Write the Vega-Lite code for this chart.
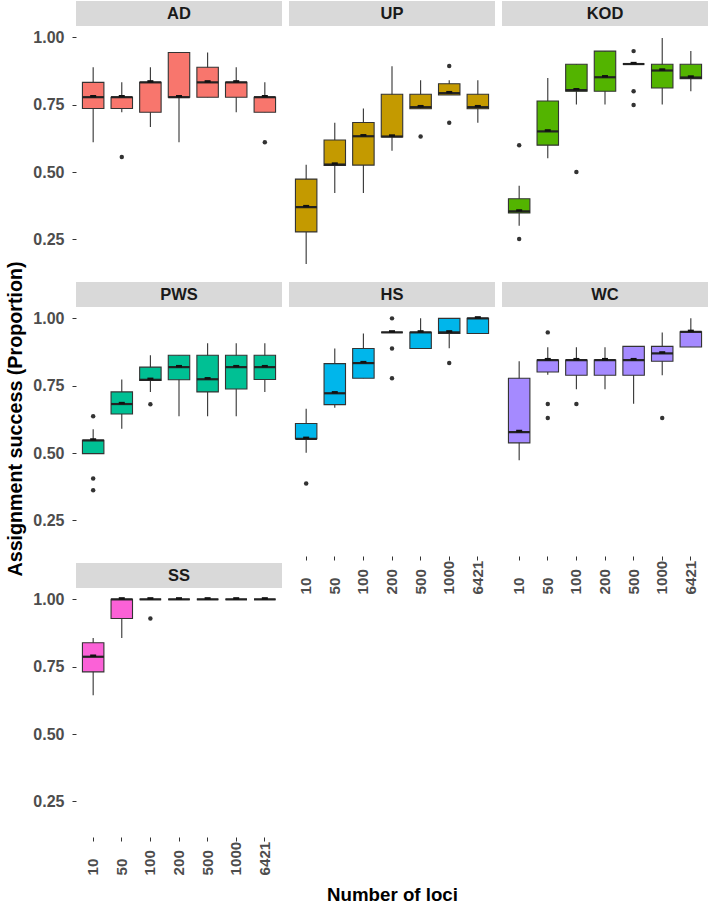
{
  "$schema": "https://vega.github.io/schema/vega-lite/v6.json",
  "padding": {"left": 6, "top": 1, "right": 0, "bottom": 0},
  "spacing": 7,
  "data": {"values": [
    {"t":"strip","site":"AD"},{"t":"strip","site":"UP"},{"t":"strip","site":"KOD"},{"t":"strip","site":"PWS"},{"t":"strip","site":"HS"},{"t":"strip","site":"WC"},{"t":"strip","site":"SS"},
    {"t":"box","site":"AD","loci":"10","lo":0.611,"q1":0.736,"med":0.778,"q3":0.833,"hi":0.889},
    {"t":"box","site":"AD","loci":"50","lo":0.722,"q1":0.736,"med":0.778,"q3":0.778,"hi":0.833},
    {"t":"box","site":"AD","loci":"100","lo":0.667,"q1":0.722,"med":0.833,"q3":0.833,"hi":0.889},
    {"t":"box","site":"AD","loci":"200","lo":0.611,"q1":0.778,"med":0.778,"q3":0.944,"hi":0.944},
    {"t":"box","site":"AD","loci":"500","lo":0.778,"q1":0.778,"med":0.833,"q3":0.889,"hi":0.944},
    {"t":"box","site":"AD","loci":"1000","lo":0.722,"q1":0.778,"med":0.833,"q3":0.833,"hi":0.889},
    {"t":"box","site":"AD","loci":"6421","lo":0.722,"q1":0.722,"med":0.778,"q3":0.778,"hi":0.833},
    {"t":"box","site":"UP","loci":"10","lo":0.159,"q1":0.278,"med":0.370,"q3":0.474,"hi":0.527},
    {"t":"box","site":"UP","loci":"50","lo":0.422,"q1":0.525,"med":0.528,"q3":0.619,"hi":0.683},
    {"t":"box","site":"UP","loci":"100","lo":0.422,"q1":0.526,"med":0.633,"q3":0.684,"hi":0.736},
    {"t":"box","site":"UP","loci":"200","lo":0.579,"q1":0.630,"med":0.632,"q3":0.789,"hi":0.893},
    {"t":"box","site":"UP","loci":"500","lo":0.735,"q1":0.735,"med":0.741,"q3":0.789,"hi":0.841},
    {"t":"box","site":"UP","loci":"1000","lo":0.786,"q1":0.786,"med":0.793,"q3":0.828,"hi":0.841},
    {"t":"box","site":"UP","loci":"6421","lo":0.683,"q1":0.735,"med":0.741,"q3":0.789,"hi":0.841},
    {"t":"box","site":"KOD","loci":"10","lo":0.301,"q1":0.348,"med":0.354,"q3":0.401,"hi":0.449},
    {"t":"box","site":"KOD","loci":"50","lo":0.551,"q1":0.600,"med":0.651,"q3":0.764,"hi":0.849},
    {"t":"box","site":"KOD","loci":"100","lo":0.751,"q1":0.800,"med":0.804,"q3":0.900,"hi":0.900},
    {"t":"box","site":"KOD","loci":"200","lo":0.751,"q1":0.800,"med":0.852,"q3":0.949,"hi":0.949},
    {"t":"box","site":"KOD","loci":"500","lo":0.901,"q1":0.901,"med":0.901,"q3":0.901,"hi":0.901},
    {"t":"box","site":"KOD","loci":"1000","lo":0.751,"q1":0.812,"med":0.877,"q3":0.900,"hi":0.998},
    {"t":"box","site":"KOD","loci":"6421","lo":0.800,"q1":0.847,"med":0.851,"q3":0.900,"hi":0.949},
    {"t":"box","site":"PWS","loci":"10","lo":0.498,"q1":0.498,"med":0.547,"q3":0.547,"hi":0.588},
    {"t":"box","site":"PWS","loci":"50","lo":0.590,"q1":0.645,"med":0.682,"q3":0.727,"hi":0.773},
    {"t":"box","site":"PWS","loci":"100","lo":0.727,"q1":0.770,"med":0.772,"q3":0.819,"hi":0.863},
    {"t":"box","site":"PWS","loci":"200","lo":0.637,"q1":0.772,"med":0.819,"q3":0.863,"hi":0.863},
    {"t":"box","site":"PWS","loci":"500","lo":0.637,"q1":0.727,"med":0.774,"q3":0.863,"hi":0.908},
    {"t":"box","site":"PWS","loci":"1000","lo":0.637,"q1":0.738,"med":0.819,"q3":0.863,"hi":0.908},
    {"t":"box","site":"PWS","loci":"6421","lo":0.727,"q1":0.773,"med":0.819,"q3":0.863,"hi":0.908},
    {"t":"box","site":"HS","loci":"10","lo":0.501,"q1":0.553,"med":0.553,"q3":0.610,"hi":0.665},
    {"t":"box","site":"HS","loci":"50","lo":0.668,"q1":0.680,"med":0.722,"q3":0.832,"hi":0.888},
    {"t":"box","site":"HS","loci":"100","lo":0.778,"q1":0.778,"med":0.834,"q3":0.888,"hi":0.944},
    {"t":"box","site":"HS","loci":"200","lo":0.948,"q1":0.948,"med":0.948,"q3":0.948,"hi":0.948},
    {"t":"box","site":"HS","loci":"500","lo":0.888,"q1":0.888,"med":0.948,"q3":0.948,"hi":1.0},
    {"t":"box","site":"HS","loci":"1000","lo":0.889,"q1":0.944,"med":0.948,"q3":1.0,"hi":1.0},
    {"t":"box","site":"HS","loci":"6421","lo":0.944,"q1":0.944,"med":1.0,"q3":1.0,"hi":1.0},
    {"t":"box","site":"WC","loci":"10","lo":0.473,"q1":0.538,"med":0.578,"q3":0.778,"hi":0.841},
    {"t":"box","site":"WC","loci":"50","lo":0.791,"q1":0.801,"med":0.845,"q3":0.845,"hi":0.893},
    {"t":"box","site":"WC","loci":"100","lo":0.737,"q1":0.789,"med":0.845,"q3":0.845,"hi":0.893},
    {"t":"box","site":"WC","loci":"200","lo":0.737,"q1":0.789,"med":0.845,"q3":0.845,"hi":0.893},
    {"t":"box","site":"WC","loci":"500","lo":0.683,"q1":0.789,"med":0.845,"q3":0.896,"hi":0.896},
    {"t":"box","site":"WC","loci":"1000","lo":0.789,"q1":0.841,"med":0.870,"q3":0.896,"hi":0.948},
    {"t":"box","site":"WC","loci":"6421","lo":0.894,"q1":0.894,"med":0.950,"q3":0.950,"hi":1.0},
    {"t":"box","site":"SS","loci":"10","lo":0.644,"q1":0.731,"med":0.787,"q3":0.839,"hi":0.857},
    {"t":"box","site":"SS","loci":"50","lo":0.857,"q1":0.929,"med":1.0,"q3":1.0,"hi":1.0},
    {"t":"box","site":"SS","loci":"100","lo":1.0,"q1":1.0,"med":1.0,"q3":1.0,"hi":1.0},
    {"t":"box","site":"SS","loci":"200","lo":1.0,"q1":1.0,"med":1.0,"q3":1.0,"hi":1.0},
    {"t":"box","site":"SS","loci":"500","lo":1.0,"q1":1.0,"med":1.0,"q3":1.0,"hi":1.0},
    {"t":"box","site":"SS","loci":"1000","lo":1.0,"q1":1.0,"med":1.0,"q3":1.0,"hi":1.0},
    {"t":"box","site":"SS","loci":"6421","lo":1.0,"q1":1.0,"med":1.0,"q3":1.0,"hi":1.0},
    {"t":"out","site":"AD","loci":"50","val":0.556},
    {"t":"out","site":"AD","loci":"6421","val":0.611},
    {"t":"out","site":"UP","loci":"500","val":0.632},
    {"t":"out","site":"UP","loci":"1000","val":0.894},
    {"t":"out","site":"UP","loci":"1000","val":0.683},
    {"t":"out","site":"KOD","loci":"10","val":0.600},
    {"t":"out","site":"KOD","loci":"10","val":0.252},
    {"t":"out","site":"KOD","loci":"100","val":0.500},
    {"t":"out","site":"KOD","loci":"500","val":0.949},
    {"t":"out","site":"KOD","loci":"500","val":0.800},
    {"t":"out","site":"KOD","loci":"500","val":0.749},
    {"t":"out","site":"PWS","loci":"10","val":0.637},
    {"t":"out","site":"PWS","loci":"10","val":0.406},
    {"t":"out","site":"PWS","loci":"10","val":0.362},
    {"t":"out","site":"PWS","loci":"100","val":0.681},
    {"t":"out","site":"HS","loci":"10","val":0.387},
    {"t":"out","site":"HS","loci":"200","val":1.0},
    {"t":"out","site":"HS","loci":"200","val":0.888},
    {"t":"out","site":"HS","loci":"200","val":0.778},
    {"t":"out","site":"HS","loci":"1000","val":0.834},
    {"t":"out","site":"WC","loci":"50","val":0.948},
    {"t":"out","site":"WC","loci":"50","val":0.682},
    {"t":"out","site":"WC","loci":"50","val":0.630},
    {"t":"out","site":"WC","loci":"100","val":0.682},
    {"t":"out","site":"WC","loci":"1000","val":0.630},
    {"t":"out","site":"SS","loci":"100","val":0.929}
  ]},
  "hconcat": [
    {
      "transform": [{"filter": {"field": "site", "oneOf": ["AD","PWS","SS"]}}],
      "facet": {"row": {"field": "site", "type": "nominal", "sort": ["AD","PWS","SS"],
        "header": {"title": "Assignment success (Proportion)", "labels": false, "titleFont": "Liberation Sans", "titleFontWeight": "bold", "titleFontSize": 19.7, "titleColor": "#000000", "titlePadding": -4}}},
      "spacing": {"row": 7},
      "spec": {
        "width": 206, "height": 274,
        "encoding": {
          "x": {"field": "loci", "type": "nominal", "title": null,
                "scale": {"domain": ["10","50","100","200","500","1000","6421"], "paddingInner": 0.25, "paddingOuter": 0.225}}
        },
        "layer": [
          {"transform": [{"filter": "datum.t === 'strip'"}],
           "mark": {"type": "rect", "color": "#D9D9D9"},
           "encoding": {"x": {"value": 0}, "x2": {"value": "width"},
             "y": {"datum": 1.042, "type": "quantitative", "title": null,
               "scale": {"domain": [0.118, 1.135], "nice": false, "zero": false},
               "axis": {"values": [0.25, 0.5, 0.75, 1.0], "format": ".2f"}},
             "y2": {"datum": 1.135}}},
          {"transform": [{"filter": "datum.t === 'strip'"}],
           "mark": {"type": "text", "font": "Liberation Sans", "fontWeight": "bold", "fontSize": 16.5, "color": "#1A1A1A", "baseline": "middle"},
           "encoding": {"x": {"datum": "200", "type": "nominal", "title": null},
             "y": {"datum": 1.0885, "type": "quantitative", "title": null, "axis": {"values": [0.25, 0.5, 0.75, 1.0], "format": ".2f"}},
             "text": {"field": "site"}}},
          {"transform": [{"filter": "datum.t === 'box'"}],
           "mark": {"type": "rule", "color": "#333333", "strokeWidth": 1.1},
           "encoding": {"y": {"field": "lo", "type": "quantitative", "title": null, "axis": {"values": [0.25, 0.5, 0.75, 1.0], "format": ".2f"}},
             "y2": {"field": "hi"}}},
          {"transform": [{"filter": "datum.t === 'box'"}],
           "mark": {"type": "bar", "stroke": "#333333", "strokeWidth": 1.1, "opacity": 1},
           "encoding": {"y": {"field": "q1", "type": "quantitative", "title": null, "axis": {"values": [0.25, 0.5, 0.75, 1.0], "format": ".2f"}},
             "y2": {"field": "q3"},
             "fill": {"field": "site", "type": "nominal", "legend": null,
               "scale": {"domain": ["AD","UP","KOD","PWS","HS","WC","SS"], "range": ["#F8766D","#C49A00","#53B400","#00C094","#00B6EB","#A58AFF","#FB61D7"]}}}},
          {"transform": [{"filter": "datum.t === 'box'"}],
           "mark": {"type": "tick", "color": "#222222", "size": 21.5, "thickness": 2.2, "opacity": 1},
           "encoding": {"y": {"field": "med", "type": "quantitative", "title": null, "axis": {"values": [0.25, 0.5, 0.75, 1.0], "format": ".2f"}}}},
          {"transform": [{"filter": "datum.t === 'box'"}],
           "mark": {"type": "tick", "color": "#111111", "size": 6, "thickness": 2.4, "yOffset": -1, "opacity": 1},
           "encoding": {"y": {"field": "med", "type": "quantitative", "title": null, "axis": {"values": [0.25, 0.5, 0.75, 1.0], "format": ".2f"}}}},
          {"transform": [{"filter": "datum.t === 'out'"}],
           "mark": {"type": "circle", "color": "#333333", "size": 20, "opacity": 1},
           "encoding": {"y": {"field": "val", "type": "quantitative", "title": null, "axis": {"values": [0.25, 0.5, 0.75, 1.0], "format": ".2f"}}}}
        ]
      }
    },
    {
      "transform": [{"filter": {"field": "site", "oneOf": ["UP","HS"]}}],
      "facet": {"row": {"field": "site", "type": "nominal", "sort": ["UP","HS"], "header": {"title": null, "labels": false}}},
      "spacing": {"row": 7},
      "spec": {
        "width": 206, "height": 274,
        "encoding": {
          "x": {"field": "loci", "type": "nominal", "title": "Number of loci", "axis": {"titlePadding": 291},
                "scale": {"domain": ["10","50","100","200","500","1000","6421"], "paddingInner": 0.25, "paddingOuter": 0.225}}
        },
        "layer": [
          {"transform": [{"filter": "datum.t === 'strip'"}],
           "mark": {"type": "rect", "color": "#D9D9D9"},
           "encoding": {"x": {"value": 0}, "x2": {"value": "width"},
             "y": {"datum": 1.042, "type": "quantitative", "axis": null,
               "scale": {"domain": [0.118, 1.135], "nice": false, "zero": false}},
             "y2": {"datum": 1.135}}},
          {"transform": [{"filter": "datum.t === 'strip'"}],
           "mark": {"type": "text", "font": "Liberation Sans", "fontWeight": "bold", "fontSize": 16.5, "color": "#1A1A1A", "baseline": "middle"},
           "encoding": {"x": {"datum": "200", "type": "nominal", "title": "Number of loci", "axis": {"titlePadding": 291}},
             "y": {"datum": 1.0885, "type": "quantitative", "axis": null}, "text": {"field": "site"}}},
          {"transform": [{"filter": "datum.t === 'box'"}],
           "mark": {"type": "rule", "color": "#333333", "strokeWidth": 1.1},
           "encoding": {"y": {"field": "lo", "type": "quantitative", "axis": null},
             "y2": {"field": "hi"}}},
          {"transform": [{"filter": "datum.t === 'box'"}],
           "mark": {"type": "bar", "stroke": "#333333", "strokeWidth": 1.1, "opacity": 1},
           "encoding": {"y": {"field": "q1", "type": "quantitative", "axis": null},
             "y2": {"field": "q3"},
             "fill": {"field": "site", "type": "nominal", "legend": null,
               "scale": {"domain": ["AD","UP","KOD","PWS","HS","WC","SS"], "range": ["#F8766D","#C49A00","#53B400","#00C094","#00B6EB","#A58AFF","#FB61D7"]}}}},
          {"transform": [{"filter": "datum.t === 'box'"}],
           "mark": {"type": "tick", "color": "#222222", "size": 21.5, "thickness": 2.2, "opacity": 1},
           "encoding": {"y": {"field": "med", "type": "quantitative", "axis": null}}},
          {"transform": [{"filter": "datum.t === 'box'"}],
           "mark": {"type": "tick", "color": "#111111", "size": 6, "thickness": 2.4, "yOffset": -1, "opacity": 1},
           "encoding": {"y": {"field": "med", "type": "quantitative", "axis": null}}},
          {"transform": [{"filter": "datum.t === 'out'"}],
           "mark": {"type": "circle", "color": "#333333", "size": 20, "opacity": 1},
           "encoding": {"y": {"field": "val", "type": "quantitative", "axis": null}}}
        ]
      }
    },
    {
      "transform": [{"filter": {"field": "site", "oneOf": ["KOD","WC"]}}],
      "facet": {"row": {"field": "site", "type": "nominal", "sort": ["KOD","WC"], "header": {"title": null, "labels": false}}},
      "spacing": {"row": 7},
      "spec": {
        "width": 206, "height": 274,
        "encoding": {
          "x": {"field": "loci", "type": "nominal", "title": null,
                "scale": {"domain": ["10","50","100","200","500","1000","6421"], "paddingInner": 0.25, "paddingOuter": 0.225}}
        },
        "layer": [
          {"transform": [{"filter": "datum.t === 'strip'"}],
           "mark": {"type": "rect", "color": "#D9D9D9"},
           "encoding": {"x": {"value": 0}, "x2": {"value": "width"},
             "y": {"datum": 1.042, "type": "quantitative", "axis": null,
               "scale": {"domain": [0.118, 1.135], "nice": false, "zero": false}},
             "y2": {"datum": 1.135}}},
          {"transform": [{"filter": "datum.t === 'strip'"}],
           "mark": {"type": "text", "font": "Liberation Sans", "fontWeight": "bold", "fontSize": 16.5, "color": "#1A1A1A", "baseline": "middle"},
           "encoding": {"x": {"datum": "200", "type": "nominal", "title": null},
             "y": {"datum": 1.0885, "type": "quantitative", "axis": null}, "text": {"field": "site"}}},
          {"transform": [{"filter": "datum.t === 'box'"}],
           "mark": {"type": "rule", "color": "#333333", "strokeWidth": 1.1},
           "encoding": {"y": {"field": "lo", "type": "quantitative", "axis": null},
             "y2": {"field": "hi"}}},
          {"transform": [{"filter": "datum.t === 'box'"}],
           "mark": {"type": "bar", "stroke": "#333333", "strokeWidth": 1.1, "opacity": 1},
           "encoding": {"y": {"field": "q1", "type": "quantitative", "axis": null},
             "y2": {"field": "q3"},
             "fill": {"field": "site", "type": "nominal", "legend": null,
               "scale": {"domain": ["AD","UP","KOD","PWS","HS","WC","SS"], "range": ["#F8766D","#C49A00","#53B400","#00C094","#00B6EB","#A58AFF","#FB61D7"]}}}},
          {"transform": [{"filter": "datum.t === 'box'"}],
           "mark": {"type": "tick", "color": "#222222", "size": 21.5, "thickness": 2.2, "opacity": 1},
           "encoding": {"y": {"field": "med", "type": "quantitative", "axis": null}}},
          {"transform": [{"filter": "datum.t === 'box'"}],
           "mark": {"type": "tick", "color": "#111111", "size": 6, "thickness": 2.4, "yOffset": -1, "opacity": 1},
           "encoding": {"y": {"field": "med", "type": "quantitative", "axis": null}}},
          {"transform": [{"filter": "datum.t === 'out'"}],
           "mark": {"type": "circle", "color": "#333333", "size": 20, "opacity": 1},
           "encoding": {"y": {"field": "val", "type": "quantitative", "axis": null}}}
        ]
      }
    }
  ],
  "config": {
    "view": {"stroke": null},
    "axis": {"grid": false, "domain": false, "labelFont": "Liberation Sans", "labelFontWeight": "bold",
             "labelColor": "#4D4D4D", "tickColor": "#333333", "tickSize": 4, "tickWidth": 1,
             "titleFont": "Liberation Sans", "titleFontWeight": "bold", "titleFontSize": 18.7, "titleColor": "#000000"},
    "axisY": {"labelPadding": 8, "labelFontSize": 16},
    "axisX": {"labelAngle": -90, "labelAlign": "left", "labelBaseline": "middle", "labelPadding": 34, "labelFontSize": 15.2}
  }
}
